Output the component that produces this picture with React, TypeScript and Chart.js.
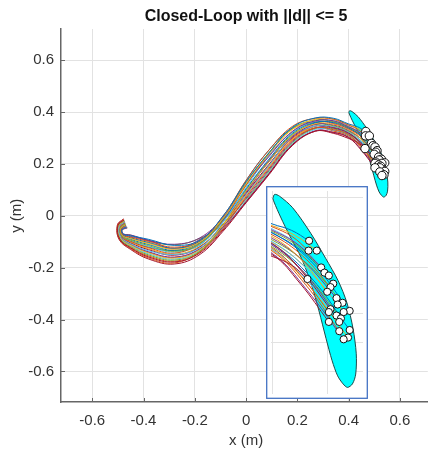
import { useEffect, useRef } from "react";
import { Chart, registerables } from "chart.js";

Chart.register(...registerables);

const TITLE = "Closed-Loop with ||d|| <= 5";
const X_LABEL = "x (m)";
const Y_LABEL = "y (m)";
const TICKS = [-0.6, -0.4, -0.2, 0, 0.2, 0.4, 0.6];
const INSET_X_TICKS = [0.4, 0.5];
const INSET_Y_TICKS = [0.1, 0.15, 0.2, 0.25, 0.3, 0.35, 0.4];

const COLORS = ["#0072BD", "#D95319", "#EDB120", "#7E2F8E", "#77AC30", "#4DBEEE", "#A2142F"];

// shared x samples of the trajectories
const X_GRID = [-0.45, -0.38, -0.28, -0.18, -0.09, 0, 0.09, 0.18, 0.27, 0.34, 0.4];

const START_X = [-0.466, -0.468, -0.47, -0.463, -0.471, -0.473, -0.476, -0.469, -0.472, -0.474, -0.467, -0.475, -0.471, -0.473, -0.47, -0.477, -0.472, -0.474, -0.464, -0.475, -0.478, -0.472, -0.476, -0.469, -0.474];
const START_Y = [-0.043, -0.038, -0.034, -0.047, -0.031, -0.024, -0.016, -0.036, -0.029, -0.021, -0.041, -0.019, -0.03, -0.026, -0.033, -0.014, -0.027, -0.022, -0.045, -0.02, -0.012, -0.029, -0.017, -0.035, -0.022];
const HOOK1_X = [-0.485, -0.487, -0.489, -0.484, -0.49, -0.495, -0.5, -0.488, -0.492, -0.497, -0.486, -0.498, -0.491, -0.494, -0.489, -0.501, -0.493, -0.496, -0.484, -0.498, -0.502, -0.492, -0.499, -0.488, -0.496];
const HOOK1_Y = [-0.054, -0.052, -0.05, -0.055, -0.048, -0.043, -0.037, -0.051, -0.046, -0.041, -0.053, -0.039, -0.047, -0.044, -0.049, -0.036, -0.045, -0.042, -0.055, -0.04, -0.035, -0.047, -0.038, -0.051, -0.042];
const HOOK2_X = [-0.479, -0.481, -0.482, -0.478, -0.484, -0.488, -0.493, -0.481, -0.486, -0.49, -0.48, -0.492, -0.485, -0.487, -0.483, -0.494, -0.487, -0.489, -0.478, -0.491, -0.495, -0.485, -0.492, -0.482, -0.489];
const HOOK2_Y = [-0.071, -0.073, -0.076, -0.07, -0.078, -0.083, -0.09, -0.074, -0.08, -0.085, -0.072, -0.088, -0.079, -0.082, -0.077, -0.091, -0.081, -0.084, -0.071, -0.087, -0.092, -0.079, -0.089, -0.075, -0.085];

const TRAJ_Y = [
  [-0.077, -0.091, -0.114, -0.094, -0.001, 0.131, 0.243, 0.34, 0.377, 0.376, 0.354],
  [-0.082, -0.099, -0.121, -0.095, -0.002, 0.136, 0.254, 0.344, 0.376, 0.372, 0.349],
  [-0.088, -0.107, -0.129, -0.101, -0.01, 0.122, 0.239, 0.332, 0.372, 0.373, 0.351],
  [-0.074, -0.095, -0.11, -0.085, -0.006, 0.121, 0.229, 0.325, 0.366, 0.366, 0.343],
  [-0.094, -0.115, -0.137, -0.107, -0.012, 0.127, 0.244, 0.336, 0.369, 0.363, 0.341],
  [-0.108, -0.135, -0.149, -0.123, -0.026, 0.109, 0.232, 0.321, 0.365, 0.367, 0.345],
  [-0.124, -0.159, -0.178, -0.143, -0.055, 0.055, 0.164, 0.274, 0.326, 0.318, 0.298],
  [-0.085, -0.103, -0.125, -0.098, -0.015, 0.104, 0.219, 0.317, 0.36, 0.359, 0.338],
  [-0.099, -0.123, -0.144, -0.106, -0.018, 0.118, 0.234, 0.322, 0.363, 0.356, 0.335],
  [-0.113, -0.143, -0.163, -0.13, -0.034, 0.095, 0.209, 0.309, 0.355, 0.353, 0.332],
  [-0.08, -0.095, -0.126, -0.091, -0.017, 0.091, 0.212, 0.305, 0.352, 0.35, 0.329],
  [-0.119, -0.151, -0.171, -0.136, -0.036, 0.1, 0.214, 0.313, 0.353, 0.347, 0.326],
  [-0.096, -0.119, -0.14, -0.111, -0.022, 0.082, 0.194, 0.305, 0.346, 0.344, 0.323],
  [-0.105, -0.131, -0.152, -0.12, -0.033, 0.086, 0.199, 0.301, 0.346, 0.341, 0.32],
  [-0.091, -0.111, -0.133, -0.104, -0.022, 0.095, 0.209, 0.309, 0.358, 0.361, 0.339],
  [-0.127, -0.163, -0.182, -0.138, -0.05, 0.073, 0.184, 0.29, 0.338, 0.332, 0.312],
  [-0.102, -0.127, -0.148, -0.117, -0.034, 0.077, 0.189, 0.293, 0.344, 0.342, 0.322],
  [-0.11, -0.139, -0.159, -0.127, -0.042, 0.068, 0.179, 0.286, 0.339, 0.338, 0.317],
  [-0.075, -0.097, -0.112, -0.087, -0.032, 0.064, 0.174, 0.282, 0.337, 0.335, 0.314],
  [-0.116, -0.147, -0.167, -0.133, -0.049, 0.059, 0.169, 0.278, 0.333, 0.33, 0.31],
  [-0.13, -0.167, -0.186, -0.149, -0.06, 0.05, 0.159, 0.27, 0.326, 0.321, 0.301],
  [-0.098, -0.121, -0.134, -0.112, -0.011, 0.136, 0.254, 0.338, 0.361, 0.339, 0.319],
  [-0.122, -0.155, -0.175, -0.139, -0.044, 0.082, 0.194, 0.297, 0.339, 0.327, 0.307],
  [-0.087, -0.105, -0.127, -0.099, -0.009, 0.116, 0.242, 0.334, 0.353, 0.328, 0.309],
  [-0.112, -0.141, -0.161, -0.128, -0.049, 0.052, 0.162, 0.272, 0.328, 0.322, 0.303],
];

const PRE_X = [0.435, 0.435, 0.442, 0.447, 0.45, 0.455, 0.435, 0.458, 0.455, 0.452, 0.46, 0.465, 0.46, 0.453, 0.47, 0.452, 0.465, 0.46, 0.463, 0.46, 0.45, 0.47, 0.46, 0.468, 0.463];
const PRE_Y = [0.343, 0.333, 0.334, 0.318, 0.313, 0.313, 0.283, 0.304, 0.299, 0.293, 0.287, 0.284, 0.279, 0.273, 0.29, 0.265, 0.275, 0.268, 0.265, 0.26, 0.252, 0.262, 0.25, 0.246, 0.24];

// final states (white circles)
const END_X = [0.467, 0.466, 0.481, 0.489, 0.495, 0.503, 0.464, 0.511, 0.506, 0.5, 0.517, 0.528, 0.519, 0.506, 0.541, 0.503, 0.53, 0.517, 0.525, 0.522, 0.503, 0.541, 0.522, 0.538, 0.53];
const END_Y = [0.325, 0.308, 0.308, 0.279, 0.27, 0.265, 0.259, 0.251, 0.245, 0.237, 0.226, 0.218, 0.215, 0.207, 0.204, 0.202, 0.202, 0.196, 0.191, 0.185, 0.185, 0.171, 0.169, 0.158, 0.155];

// outline of the terminal set
const SET_X = [0.401, 0.404, 0.413, 0.437, 0.47, 0.497, 0.52, 0.536, 0.547, 0.553, 0.552, 0.546, 0.537, 0.529, 0.519, 0.509, 0.498, 0.485, 0.471, 0.453, 0.432, 0.415, 0.403, 0.401];
const SET_Y = [0.398, 0.405, 0.402, 0.382, 0.338, 0.295, 0.256, 0.218, 0.174, 0.13, 0.095, 0.078, 0.072, 0.078, 0.092, 0.118, 0.156, 0.204, 0.25, 0.295, 0.333, 0.366, 0.392, 0.398];

const FONT = "'Liberation Sans', Arial, Helvetica, sans-serif";
const TEXT = "#333333";
const AXIS = "#666666";
const GRID = "#e2e2e2";

function trajPoints(i: number) {
  const pts = [
    { x: START_X[i], y: START_Y[i] },
    { x: HOOK1_X[i], y: HOOK1_Y[i] },
    { x: HOOK2_X[i], y: HOOK2_Y[i] },
  ];
  X_GRID.forEach((x, k) => pts.push({ x, y: TRAJ_Y[i][k] }));
  pts.push({ x: PRE_X[i], y: PRE_Y[i] });
  pts.push({ x: END_X[i], y: END_Y[i] });
  return pts;
}

function buildDatasets(circleR: number): any[] {
  const ds: any[] = [];
  ds.push({
    type: "line",
    data: SET_X.map((x, i) => ({ x, y: SET_Y[i] })),
    borderColor: "#1f4a4a",
    borderWidth: 1,
    backgroundColor: "#00FFFF",
    fill: "shape",
    tension: 0.3,
    pointRadius: 0,
    order: 3,
  });
  TRAJ_Y.forEach((_, i) => {
    ds.push({
      type: "line",
      data: trajPoints(i),
      borderColor: COLORS[i % COLORS.length],
      borderWidth: 1,
      fill: false,
      tension: 0.4,
      pointRadius: 0,
      order: 2,
    });
  });
  ds.push({
    type: "scatter",
    data: END_X.map((x, i) => ({ x, y: END_Y[i] })),
    pointRadius: circleR,
    pointBackgroundColor: "#ffffff",
    pointBorderColor: "#111111",
    pointBorderWidth: 1,
    showLine: false,
    order: 1,
  });
  return ds;
}

const fmt = (v: number) => {
  const r = Math.round(v * 10) / 10;
  return r === 0 ? "0" : String(r);
};

const whiteBg = {
  id: "whiteBg",
  beforeDraw(chart: any) {
    const c = chart.ctx;
    c.save();
    c.fillStyle = "#ffffff";
    c.fillRect(0, 0, chart.width, chart.height);
    c.restore();
  },
};

const mainDecor = {
  id: "mainDecor",
  afterDraw(chart: any) {
    const c = chart.ctx;
    const xs = chart.scales.x;
    const ys = chart.scales.y;
    const a = chart.chartArea;
    c.save();
    c.strokeStyle = AXIS;
    c.lineWidth = 1;
    TICKS.forEach((t) => {
      const px = Math.round(xs.getPixelForValue(t)) + 0.5;
      c.beginPath();
      c.moveTo(px, a.bottom);
      c.lineTo(px, a.bottom - 4);
      c.stroke();
      const py = Math.round(ys.getPixelForValue(t)) + 0.5;
      c.beginPath();
      c.moveTo(a.left, py);
      c.lineTo(a.left + 4, py);
      c.stroke();
    });
    const cx = xs.getPixelForValue(0);
    c.fillStyle = "#111111";
    c.textAlign = "center";
    c.textBaseline = "middle";
    c.font = `bold 16px ${FONT}`;
    c.fillText(TITLE, cx, 17);
    c.fillStyle = TEXT;
    c.font = `15px ${FONT}`;
    c.fillText(X_LABEL, cx, 441);
    c.translate(17, ys.getPixelForValue(0));
    c.rotate(-Math.PI / 2);
    c.fillText(Y_LABEL, 0, 0);
    c.restore();
  },
};

const insetBorder = {
  id: "insetBorder",
  afterDraw(chart: any) {
    const c = chart.ctx;
    c.save();
    c.strokeStyle = "#4472C4";
    c.lineWidth = 1.3;
    c.strokeRect(0.7, 0.7, chart.width - 1.4, chart.height - 1.4);
    c.restore();
  },
};

export default function App() {
  const mainRef = useRef<HTMLCanvasElement>(null);
  const insetRef = useRef<HTMLCanvasElement>(null);

  useEffect(() => {
    const tickFont = { family: FONT, size: 15 };
    const main = new Chart(mainRef.current as HTMLCanvasElement, {
      type: "scatter",
      data: { datasets: buildDatasets(4.2) },
      options: {
        animation: false,
        responsive: false,
        maintainAspectRatio: false,
        layout: { padding: { top: 29, left: 0, right: 0, bottom: 0 } },
        plugins: { legend: { display: false }, tooltip: { enabled: false }, title: { display: false } },
        scales: {
          x: {
            type: "linear",
            min: -0.722,
            max: 0.709,
            afterBuildTicks: (s: any) => {
              s.ticks = TICKS.map((v) => ({ value: v }));
            },
            afterFit: (s: any) => {
              s.height = 51;
            },
            ticks: { autoSkip: false, maxRotation: 0, padding: 10, font: tickFont, color: TEXT, callback: (v: any) => fmt(Number(v)) },
            grid: { color: GRID, drawTicks: false, lineWidth: 1 },
            border: { display: true, color: AXIS, width: 1.5 },
          },
          y: {
            type: "linear",
            min: -0.718,
            max: 0.72,
            afterBuildTicks: (s: any) => {
              s.ticks = TICKS.map((v) => ({ value: v }));
            },
            afterFit: (s: any) => {
              s.width = 61;
            },
            ticks: { autoSkip: false, padding: 7, font: tickFont, color: TEXT, callback: (v: any) => fmt(Number(v)) },
            grid: { color: GRID, drawTicks: false, lineWidth: 1 },
            border: { display: true, color: AXIS, width: 1.5 },
          },
        },
      } as any,
      plugins: [whiteBg, mainDecor],
    });

    const inset = new Chart(insetRef.current as HTMLCanvasElement, {
      type: "scatter",
      data: { datasets: buildDatasets(3.6) },
      options: {
        animation: false,
        responsive: false,
        maintainAspectRatio: false,
        layout: { padding: 0 },
        plugins: { legend: { display: false }, tooltip: { enabled: false }, title: { display: false } },
        scales: {
          x: {
            type: "linear",
            min: 0.3975,
            max: 0.5653,
            afterBuildTicks: (s: any) => {
              s.ticks = INSET_X_TICKS.map((v) => ({ value: v }));
            },
            afterFit: (s: any) => {
              s.height = 0;
            },
            ticks: { display: false },
            grid: { color: GRID, drawTicks: false, lineWidth: 1 },
            border: { display: false },
          },
          y: {
            type: "linear",
            min: 0.0606,
            max: 0.4109,
            afterBuildTicks: (s: any) => {
              s.ticks = INSET_Y_TICKS.map((v) => ({ value: v }));
            },
            afterFit: (s: any) => {
              s.width = 0;
            },
            ticks: { display: false },
            grid: { color: GRID, drawTicks: false, lineWidth: 1 },
            border: { display: false },
          },
        },
      } as any,
      plugins: [whiteBg, insetBorder],
    });

    return () => {
      main.destroy();
      inset.destroy();
    };
  }, []);

  return (
    <div style={{ position: "fixed", left: 0, top: 0, width: 433, height: 453, overflow: "hidden", background: "#fff" }}>
      <canvas ref={mainRef} width={433} height={453} style={{ position: "absolute", left: 0, top: 0, display: "block" }} />
      <canvas ref={insetRef} width={102} height={213} style={{ position: "absolute", left: 266, top: 186, display: "block" }} />
    </div>
  );
}
